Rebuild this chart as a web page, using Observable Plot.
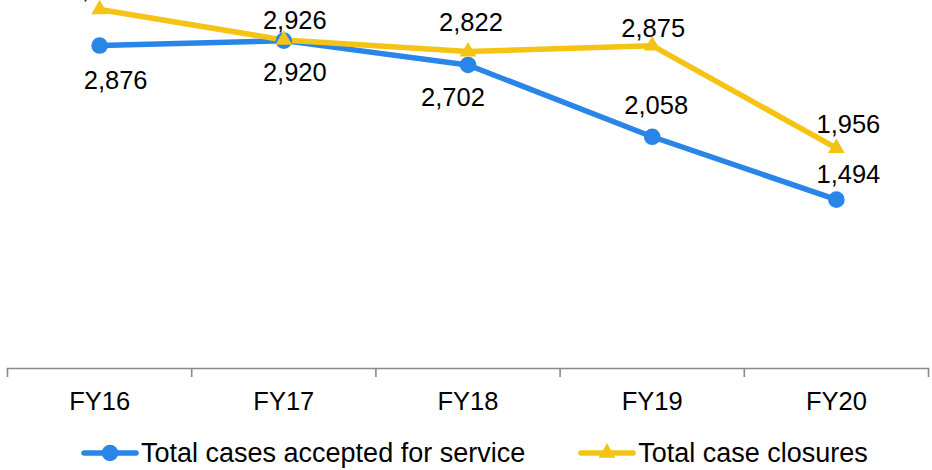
<!DOCTYPE html>
<html>
<head>
<meta charset="utf-8">
<script src="https://cdn.jsdelivr.net/npm/d3@7"></script>
<script src="https://cdn.jsdelivr.net/npm/@observablehq/plot@0.6"></script>
<style>
  html, body { margin: 0; padding: 0; background: #fff; overflow: hidden; }
  body { width: 932px; height: 470px; font-family: "Liberation Sans", Arial, sans-serif; }
  #legend { display: flex; align-items: center; height: 56px; margin-left: 80px; font-size: 27px; color: #000; white-space: nowrap; }
  #legend .item { display: flex; align-items: center; }
  #legend svg { display: block; }
</style>
</head>
<body>
<div id="chart"></div>
<div id="legend"></div>
<script>
const categories = ["FY16", "FY17", "FY18", "FY19", "FY20"];
const acceptedValues = [2876, 2920, 2702, 2058, 1494];
const closureValues = [3200, 2926, 2822, 2875, 1956];
const seriesNames = ["Total cases accepted for service", "Total case closures"];

const BLUE = "#2a85e8";
const YELLOW = "#f5c314";
const GRAY = "#898989";

// label offsets (styling, px)
const acceptedDx = [16, 11, -15, 4, 12];
const acceptedDy = [35, 32, 33, -31, -25];
const closureDx = [0, 11, 3, 1, 12];
const closureDy = [-20, -19, -29, -17, -23];

const fmt = d3.format(",");
const accepted = categories.map((c, i) => ({i, cat: c, value: acceptedValues[i], dx: acceptedDx[i], dy: acceptedDy[i]}));
const closures = categories.map((c, i) => ({i, cat: c, value: closureValues[i], dx: closureDx[i], dy: closureDy[i]}));
const centers = categories.map((c, i) => i);
const boundaries = d3.range(categories.length + 1).map(k => k - 0.5);

function labels(data) {
  return data.map(d => Plot.text([d], {
    x: "i", y: "value", text: d => fmt(d.value),
    dx: d.dx, dy: d.dy, fill: "#000", fontSize: 25.5, textAnchor: "middle"
  }));
}

const chart = Plot.plot({
  width: 932,
  height: 425,
  marginTop: 0,
  marginBottom: 57,
  marginLeft: 7,
  marginRight: 4,
  style: { fontFamily: "Liberation Sans, Arial, sans-serif", background: "#fff", overflow: "hidden" },
  x: { type: "linear", domain: [-0.5, categories.length - 0.5] },
  y: { domain: [-20, 3280], axis: null },
  marks: [
    Plot.frame({ anchor: "bottom", stroke: GRAY, strokeWidth: 1.6 }),
    Plot.axisX({ ticks: boundaries, tickSize: 9, stroke: GRAY, strokeWidth: 1.6, tickFormat: () => "", label: null }),
    Plot.axisX({ ticks: centers, tickSize: 0, tickPadding: 23, tickFormat: i => categories[i], fontSize: 25.5, fill: "#000", label: null }),
    Plot.line(accepted, { x: "i", y: "value", stroke: BLUE, strokeWidth: 5.5 }),
    Plot.line(closures, { x: "i", y: "value", stroke: YELLOW, strokeWidth: 5.5 }),
    Plot.dot(accepted, { x: "i", y: "value", r: 8.3, fill: BLUE, symbol: "circle" }),
    Plot.dot(closures, { x: "i", y: "value", r: 6.2, fill: YELLOW, symbol: "triangle" }),
    ...labels(accepted),
    ...labels(closures)
  ]
});
document.getElementById("chart").appendChild(chart);

// legend
function swatch(color, symbol) {
  const w = 60, h = 24, ns = "http://www.w3.org/2000/svg";
  const svg = document.createElementNS(ns, "svg");
  svg.setAttribute("width", w); svg.setAttribute("height", h);
  const line = document.createElementNS(ns, "line");
  line.setAttribute("x1", 4); line.setAttribute("x2", w - 4);
  line.setAttribute("y1", h / 2); line.setAttribute("y2", h / 2);
  line.setAttribute("stroke", color); line.setAttribute("stroke-width", 5.5);
  line.setAttribute("stroke-linecap", "round");
  svg.appendChild(line);
  const p = document.createElementNS(ns, "path");
  const size = symbol === "circle" ? Math.PI * 8.3 * 8.3 : Math.PI * 6.2 * 6.2;
  const sym = symbol === "circle" ? d3.symbolCircle : d3.symbolTriangle;
  p.setAttribute("d", d3.symbol(sym, size)());
  p.setAttribute("transform", `translate(${w / 2},${h / 2})`);
  p.setAttribute("fill", color);
  svg.appendChild(p);
  return svg;
}
const legend = document.getElementById("legend");
[[seriesNames[0], BLUE, "circle"], [seriesNames[1], YELLOW, "triangle"]].forEach(([name, color, sym], k) => {
  const item = document.createElement("div");
  item.className = "item";
  if (k > 0) item.style.marginLeft = "52px";
  item.appendChild(swatch(color, sym));
  const t = document.createElement("span");
  t.textContent = name;
  t.style.marginLeft = "1px";
  item.appendChild(t);
  legend.appendChild(item);
});
</script>
</body>
</html>
